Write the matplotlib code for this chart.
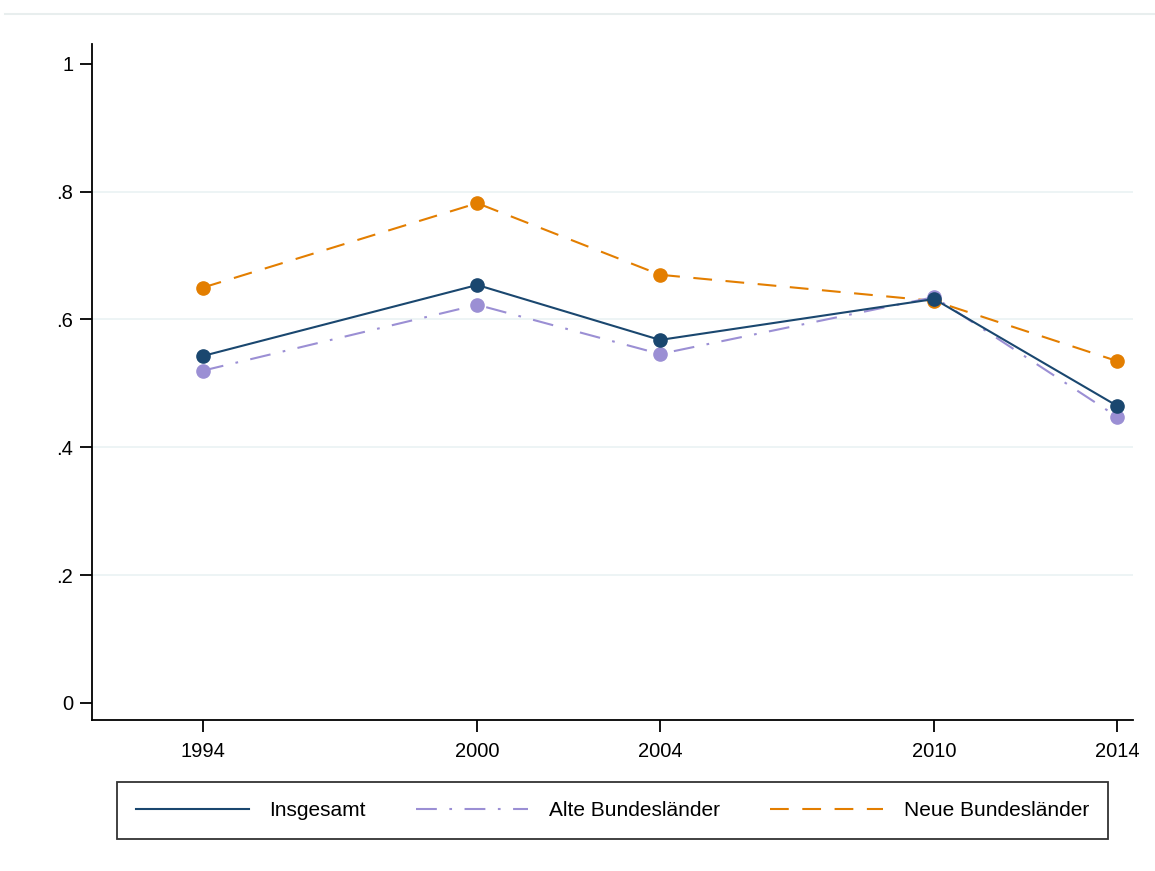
import matplotlib
matplotlib.use("Agg")
import matplotlib.pyplot as plt
from matplotlib.lines import Line2D

years = [1994, 2000, 2004, 2010, 2014]
insgesamt = [0.543, 0.654, 0.568, 0.632, 0.465]
alte = [0.520, 0.623, 0.546, 0.635, 0.448]
neue = [0.650, 0.782, 0.670, 0.629, 0.535]
yticks = [0, 0.2, 0.4, 0.6, 0.8, 1.0]
ytick_labels = ["0", ".2", ".4", ".6", ".8", "1"]
labels = ["Insgesamt", "Alte Bundesländer", "Neue Bundesländer"]

plt.rcParams['font.family'] = ['Liberation Sans', 'DejaVu Sans']

W, H = 1155, 871
fig = plt.figure(figsize=(W / 100, H / 100), dpi=100)
ax = fig.add_axes([92 / W, 1 - 720 / H, (1133 - 92) / W, (720 - 44) / H])

navy = "#1a476f"
lav = "#9b8fd4"
orange = "#e37e00"
lw = 1.5
dash_neue = (9, 6.5)
dash_alte = (10, 6, 1.3, 6)

ax.plot(years, neue, color=orange, lw=lw, dashes=dash_neue, marker="o", ms=9.5,
        mec=orange, mfc=orange, label=labels[2], zorder=3)
ax.plot(years, alte, color=lav, lw=lw, dashes=dash_alte, marker="o", ms=9.5,
        mec=lav, mfc=lav, label=labels[1], zorder=4)
ax.plot(years, insgesamt, color=navy, lw=lw, marker="o", ms=9.5,
        mec=navy, mfc=navy, label=labels[0], zorder=5)

ax.set_xlim(1991.57, 2014.35)
ax.set_ylim(-0.0266, 1.031)
ax.set_xticks(years)
ax.set_xticklabels([str(y) for y in years], fontsize=14.5)
ax.set_yticks(yticks)
ax.set_yticklabels(ytick_labels, fontsize=14.5)
for y in yticks[1:-1]:
    ax.axhline(y, color="#eaf2f3", lw=1.2, zorder=1)

for s in ["top", "right"]:
    ax.spines[s].set_visible(False)
for s in ["left", "bottom"]:
    ax.spines[s].set_linewidth(1.3)
    ax.spines[s].set_color("black")
ax.tick_params(axis="both", direction="out", length=8.5, width=1.3, colors="black")
ax.tick_params(axis="y", pad=5)
ax.tick_params(axis="x", pad=7)

h = [Line2D([0], [0], color=navy, lw=lw),
     Line2D([0], [0], color=lav, lw=lw, dashes=dash_alte),
     Line2D([0], [0], color=orange, lw=lw, dashes=dash_neue)]
leg = fig.legend(h, labels, loc="center", ncol=3, fontsize=15,
                 bbox_to_anchor=((115 + 1110) / 2 / W, 1 - 810.5 / H),
                 handlelength=5.4, handletextpad=1.0, columnspacing=2.4,
                 fancybox=False, frameon=True, edgecolor="black",
                 borderpad=0.9)
leg.get_frame().set_linewidth(1.3)

fig.add_artist(Line2D([5 / W, 1], [1 - 14 / H, 1 - 14 / H], color="#e8eeee", lw=1.5))

fig.savefig("out.png", dpi=100, facecolor="white")
